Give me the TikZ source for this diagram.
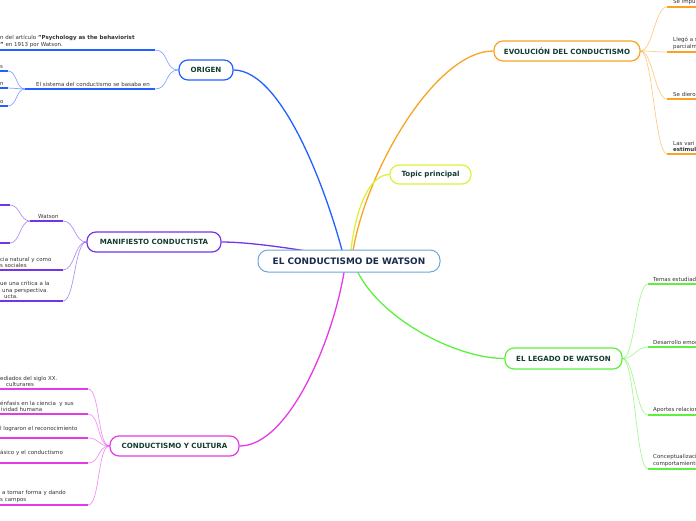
\documentclass[tikz,border=0pt]{standalone}
\usepackage{fontspec}
\setmainfont{DejaVu Sans}
\usetikzlibrary{backgrounds}
\definecolor{cblue}{HTML}{2260FF}
\definecolor{corange}{HTML}{F8A422}
\definecolor{cyellow}{HTML}{DDF23A}
\definecolor{cpurple}{HTML}{7335E8}
\definecolor{cmagenta}{HTML}{E53BE5}
\definecolor{cgreen}{HTML}{5EF03C}
\definecolor{mainblue}{HTML}{6AA7DD}
\definecolor{navy}{HTML}{1A2B4C}
\definecolor{tgreen}{HTML}{123D2F}
\definecolor{tgray}{HTML}{333333}
\tikzset{
 topic/.style={draw, line width=1.2pt, rounded corners=9pt, fill=white, text=tgreen,
   font=\fontsize{7.1}{8}\selectfont\bfseries, inner sep=0pt},
 sub/.style={anchor=south west, inner sep=0pt, align=left, text=tgray,
   font=\fontsize{5.5}{6.7}\selectfont},
 uline/.style={line width=1.8pt},
 twig/.style={line width=0.7pt, opacity=0.55},
 trunk/.style={line width=1.3pt},
}
\begin{document}
\begin{tikzpicture}[x=1pt,y=-1pt]
\useasboundingbox (0,0) rectangle (696,520);
% main and topics
\node[draw=mainblue, line width=1pt, rounded corners=10pt, fill=white, minimum width=182pt,
  minimum height=22pt, text=navy, font=\fontsize{8.9}{10}\selectfont\bfseries] (main) at (349,261) {EL CONDUCTISMO DE WATSON};
\node[topic, draw=cblue, minimum width=54pt, minimum height=20pt] (origen) at (206,70) {ORIGEN};
\node[topic, draw=cyellow, minimum width=81pt, minimum height=19pt] (topicp) at (430.5,174.5) {Topic principal};
\node[topic, draw=corange, minimum width=146pt, minimum height=20pt] (evol) at (567,51) {EVOLUCIÓN DEL CONDUCTISMO};
\node[topic, draw=cpurple, minimum width=134pt, minimum height=20pt] (manif) at (154,242) {MANIFIESTO CONDUCTISTA};
\node[topic, draw=cgreen, minimum width=117pt, minimum height=21pt] (legado) at (563.5,358.5) {EL LEGADO DE WATSON};
\node[topic, draw=cmagenta, minimum width=129pt, minimum height=20pt] (cultura) at (174.5,446) {CONDUCTISMO Y CULTURA};

% trunks
\begin{pgfonlayer}{background}
\coordinate (mb) at (344,258);
\coordinate (mo) at (352,258);
\coordinate (my) at (350,258);
\coordinate (mp) at (345,258);
\coordinate (mm) at (345,266);
\coordinate (mg) at (355,266);
\draw[trunk,cblue] (origen.east) .. controls +(50,0) and +(-15,-60) .. (mb);
\draw[trunk,corange] (mo) .. controls +(10,-80) and +(-60,0) .. (evol.west);
\draw[trunk,cyellow] (my) .. controls +(5,-50) and +(-20,0) .. (topicp.west);
\draw[trunk,cpurple] (manif.east) .. controls +(30,0) and +(-40,-8) .. (mp);
\draw[trunk,cmagenta] (cultura.east) .. controls +(50,0) and +(-10,70) .. (mm);
\draw[trunk,cgreen] (mg) .. controls +(20,50) and +(-50,0) .. (legado.west);
\end{pgfonlayer}

% ORIGEN branches
\coordinate (o1s) at (0,50); \coordinate (o1e) at (155,50);
\draw[uline,cblue] (o1s) -- (o1e);
\draw[twig,cblue] (o1e) .. controls +(14,0) and +(-14,0) .. (origen.west);
\node[sub] (o1t) at (0,48) {n del artículo \textbf{"Psychology as the behaviorist}\\\textbf{"} en 1913 por Watson.};
\coordinate (o2s) at (25,89); \coordinate (o2e) at (155,89);
\draw[uline,cblue] (o2s) -- (o2e);
\draw[twig,cblue] (o2e) .. controls +(14,0) and +(-14,0) .. (origen.west);
\node[sub] (o2t) at (36,87) {El sistema del conductismo se basaba en};
\coordinate (o3s) at (0,71); \coordinate (o3e) at (8,71);
\draw[uline,cblue] (o3s) -- (o3e);
\draw[twig,cblue] (o3e) .. controls +(9,0) and +(-9,0) .. (o2s);
\node[sub] (o3t) at (0,69) {s};
\coordinate (o4s) at (0,88); \coordinate (o4e) at (8,88);
\draw[uline,cblue] (o4s) -- (o4e);
\draw[twig,cblue] (o4e) -- (o2s);
\node[sub] (o4t) at (0,86) {n};
\coordinate (o5s) at (0,106); \coordinate (o5e) at (8,106);
\draw[uline,cblue] (o5s) -- (o5e);
\draw[twig,cblue] (o5e) .. controls +(9,0) and +(-9,0) .. (o2s);
\node[sub] (o5t) at (0,104) {o};

% MANIFIESTO branches
\coordinate (m1s) at (30,221); \coordinate (m1e) at (63,221);
\draw[uline,cpurple] (m1s) -- (m1e);
\draw[twig,cpurple] (m1e) .. controls +(12,0) and +(-12,0) .. (manif.west);
\node[sub] (m1t) at (38,219) {Watson};
\coordinate (m2s) at (0,205); \coordinate (m2e) at (10,205);
\draw[uline,cpurple] (m2s) -- (m2e);
\draw[twig,cpurple] (m2e) .. controls +(10,0) and +(-10,0) .. (m1s);
\coordinate (m3s) at (0,243); \coordinate (m3e) at (10,243);
\draw[uline,cpurple] (m3s) -- (m3e);
\draw[twig,cpurple] (m3e) .. controls +(10,0) and +(-10,0) .. (m1s);
\coordinate (m4s) at (0,270); \coordinate (m4e) at (63,270);
\draw[uline,cpurple] (m4s) -- (m4e);
\draw[twig,cpurple] (m4e) .. controls +(12,0) and +(-12,0) .. (manif.west);
\node[sub] (m4t) at (0,268) {cia natural y como\\s sociales};
\coordinate (m5s) at (0,301); \coordinate (m5e) at (63,301);
\draw[uline,cpurple] (m5s) -- (m5e);
\draw[twig,cpurple] (m5e) .. controls +(12,0) and +(-12,0) .. (manif.west);
\node[sub] (m5t) at (0,299) {ue una crítica a la\\\hspace*{2pt}una perspectiva\\\hspace*{4pt}ucta.};

% CULTURA branches
\foreach \n/\yy in {c1/389,c2/414,c3/438,c4/463,c5/505}{
  \coordinate (\n s) at (0,\yy); \coordinate (\n e) at (88,\yy);
  \draw[uline,cmagenta] (\n s) -- (\n e);
  \draw[twig,cmagenta] (\n e) .. controls +(12,0) and +(-12,0) .. (cultura.west);
}
\node[sub] (c1t) at (0,387) {ediados del siglo XX.\\\hspace*{6pt}culturares};
\node[sub] (c2t) at (0,412) {énfasis en la ciencia~ y sus\\\hspace*{1pt}ividad humana};
\node[sub] (c3t) at (0,432) {l lograron el reconocimiento};
\node[sub] (c4t) at (0,456) {ásico y el conductismo};
\node[sub] (c5t) at (0,503) {\hspace*{2pt}a tomar forma y dando\\s campos};

% EVOLUCION branches
\foreach \n/\yy in {e1/7,e2/52,e3/99,e4/154}{
  \coordinate (\n s) at (667,\yy); \coordinate (\n e) at (696,\yy);
  \draw[uline,corange] (\n s) -- (\n e);
  \draw[twig,corange] (evol.east) .. controls +(12,0) and +(-12,0) .. (\n s);
}
\node[sub] (e1t) at (673,5) {Se impu};
\node[sub] (e2t) at (673,50) {Llegó a s\\parcialm};
\node[sub] (e3t) at (673,97) {Se diero};
\node[sub] (e4t) at (673,152) {Las vari\\\textbf{estimul}};

% LEGADO branches
\foreach \n/\yy in {l1/284,l2/347,l3/415,l4/469}{
  \coordinate (\n s) at (648,\yy); \coordinate (\n e) at (696,\yy);
  \draw[uline,cgreen] (\n s) -- (\n e);
  \draw[twig,cgreen] (legado.east) .. controls +(12,0) and +(-12,0) .. (\n s);
}
\node[sub] (l1t) at (653,282) {Temas estudiad};
\node[sub] (l2t) at (653,345) {Desarrollo emoc};
\node[sub] (l3t) at (653,413) {Aportes relacion};
\node[sub] (l4t) at (653,467) {Conceptualizaci\\comportamiento};
\end{tikzpicture}
\end{document}
